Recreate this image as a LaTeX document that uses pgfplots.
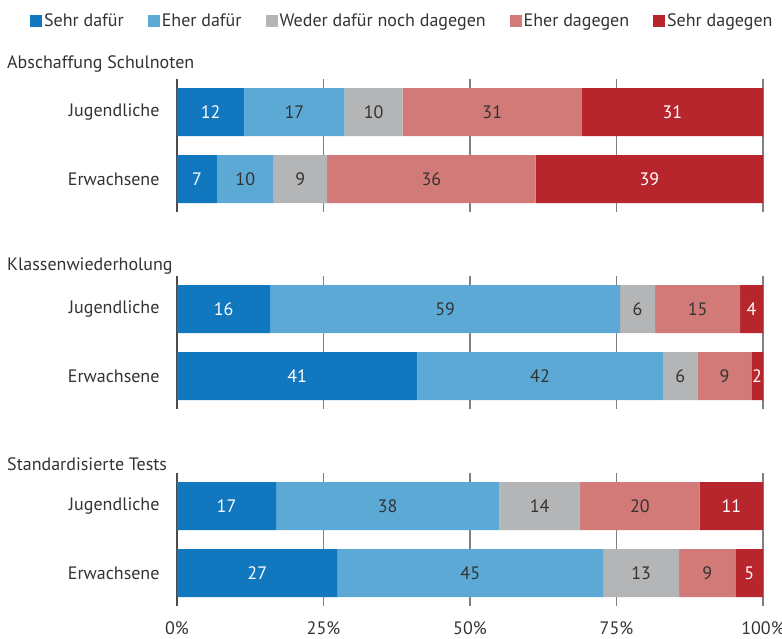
\documentclass[border=0pt]{standalone}
\usepackage{pgfplots}
\pgfplotsset{compat=1.18}
\usepackage{pgfplotstable}
\usepackage{fontspec}
\setmainfont{PT Sans}
\definecolor{c1}{HTML}{1177BE}
\definecolor{c2}{HTML}{5DA9D5}
\definecolor{c3}{HTML}{B3B5B7}
\definecolor{c4}{HTML}{D27A78}
\definecolor{c5}{HTML}{B8262D}
\definecolor{txt}{HTML}{333333}
\definecolor{grd}{HTML}{808080}

\pgfplotstableread{
y a b c d e la lb lc ld le
112 11.5 17.1 9.9 30.6 30.9 12 17 10 31 31
179 6.8 9.7 9.1 35.6 38.8 7 10 9 36 39
}\groupA
\pgfplotstableread{
y a b c d e la lb lc ld le
309 15.9 59.7 6.0 14.5 3.9 16 59 6 15 4
376 41.0 41.9 6.0 9.1 2.0 41 42 6 9 2
}\groupB
\pgfplotstableread{
y a b c d e la lb lc ld le
506 16.9 38.1 13.8 20.4 10.8 17 38 14 20 11
573 27.4 45.3 13.0 9.6 4.7 27 45 13 9 5
}\groupC

\newcommand{\fs}{\fontsize{18}{21}\selectfont}

\pgfplotsset{
  grp/.style={
    scale only axis, width=586pt, height=133pt,
    xbar stacked, bar width=48pt,
    xmin=0, xmax=100, y dir=reverse,
    axis line style={draw=none},
    xtick={0,25,50,75,100}, xmajorgrids,
    grid style={grd, line width=1.4pt},
    extra x ticks={0}, extra x tick labels={},
    extra x tick style={grid style={black!70, line width=1.4pt}},
    major tick length=0pt,
    xticklabels={},
    yticklabels={Jugendliche,Erwachsene},
    yticklabel style={font=\fs, text=txt, xshift=-14pt},
    /pgf/number format/assume math mode=true,
  },
  seg/.style 2 args={fill=#1, draw=none,
    nodes near coords, point meta=explicit symbolic,
    every node near coord/.append style={anchor=center,
      font=\fs, text=#2}},
}

\begin{document}
\begin{tikzpicture}
\path[use as bounding box] (0,0) rectangle (782pt,-639pt);

\node[anchor=west, font=\fs, text=txt, inner sep=0pt] at (7pt,-64pt) {Abschaffung Schulnoten};
\node[anchor=west, font=\fs, text=txt, inner sep=0pt] at (7pt,-266pt) {Klassenwiederholung};
\node[anchor=west, font=\fs, text=txt, inner sep=0pt] at (7pt,-464pt) {Standardisierte Tests};

\begin{axis}[grp, at={(177pt,-79pt)}, anchor=north west,
  ymin=79, ymax=212, ytick={112,179},
  legend columns=5,
  legend style={at={(axis description cs:-0.2509,1.436)}, anchor=west,
    draw=none, fill=none, inner sep=0pt, font=\fs, text=txt,
    nodes={inner sep=2pt},
    /tikz/every even column/.append style={column sep=22pt}},
  legend image code/.code={\fill[#1] (0pt,-6pt) rectangle (12pt,6pt);},
]
\addplot[seg={c1}{white}] table[x=a, y=y, meta=la] {\groupA};
\addplot[seg={c2}{txt}] table[x=b, y=y, meta=lb] {\groupA};
\addplot[seg={c3}{txt}] table[x=c, y=y, meta=lc] {\groupA};
\addplot[seg={c4}{txt}] table[x=d, y=y, meta=ld] {\groupA};
\addplot[seg={c5}{white}] table[x=e, y=y, meta=le] {\groupA};
\legend{Sehr dafür, Eher dafür, Weder dafür noch dagegen, Eher dagegen, Sehr dagegen}
\end{axis}

\begin{axis}[grp, at={(177pt,-276pt)}, anchor=north west,
  ymin=276, ymax=409, ytick={309,376}]
\addplot[seg={c1}{white}] table[x=a, y=y, meta=la] {\groupB};
\addplot[seg={c2}{txt}] table[x=b, y=y, meta=lb] {\groupB};
\addplot[seg={c3}{txt}] table[x=c, y=y, meta=lc] {\groupB};
\addplot[seg={c4}{txt}] table[x=d, y=y, meta=ld] {\groupB};
\addplot[seg={c5}{white}] table[x=e, y=y, meta=le] {\groupB};
\end{axis}

\begin{axis}[grp, at={(177pt,-473pt)}, anchor=north west,
  ymin=473, ymax=606, ytick={506,573},
  xticklabels={0\%,25\%,50\%,75\%,100\%},
  xticklabel style={font=\fs, text=txt, yshift=-12pt}]
\addplot[seg={c1}{white}] table[x=a, y=y, meta=la] {\groupC};
\addplot[seg={c2}{txt}] table[x=b, y=y, meta=lb] {\groupC};
\addplot[seg={c3}{txt}] table[x=c, y=y, meta=lc] {\groupC};
\addplot[seg={c4}{txt}] table[x=d, y=y, meta=ld] {\groupC};
\addplot[seg={c5}{white}] table[x=e, y=y, meta=le] {\groupC};
\end{axis}
\end{tikzpicture}
\end{document}
